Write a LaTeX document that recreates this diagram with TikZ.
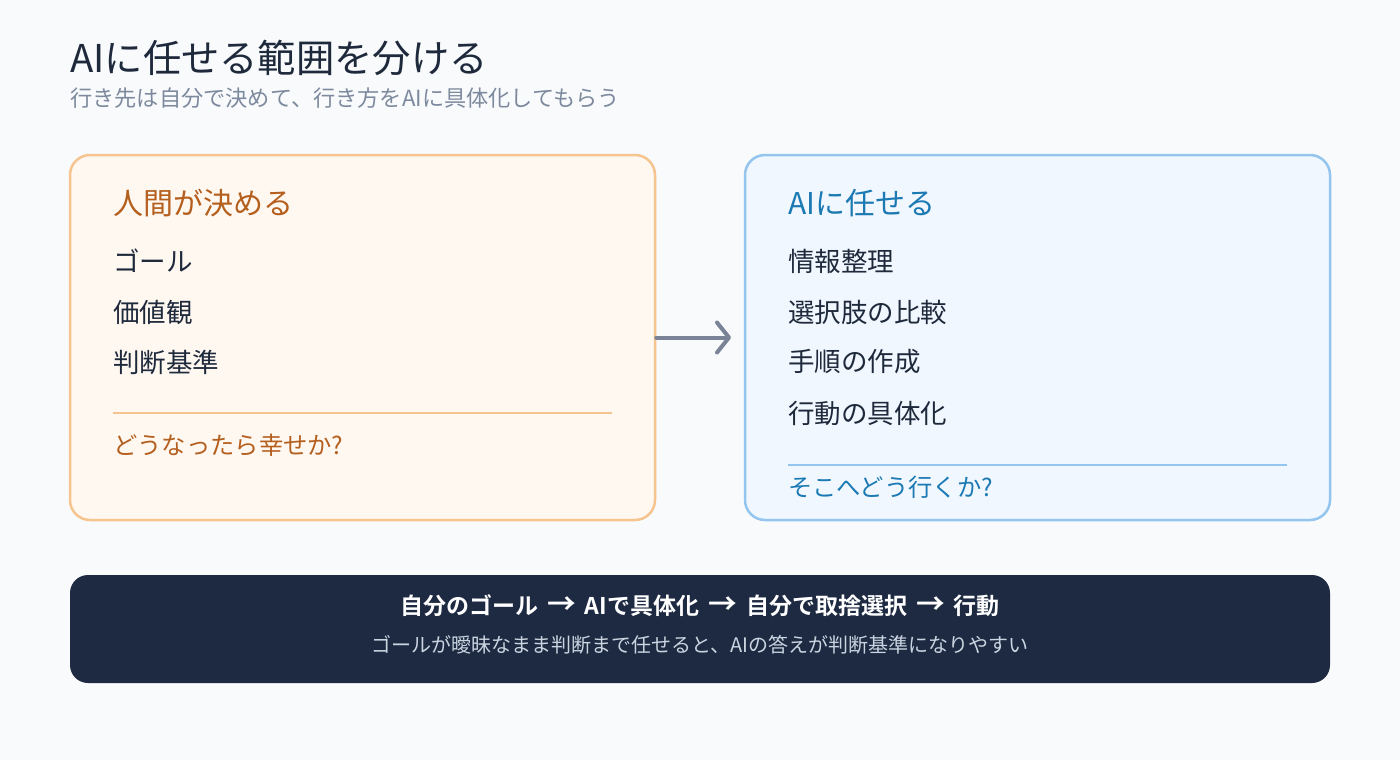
\documentclass[tikz,border=0pt]{standalone}
\usepackage{fontspec}
\setmainfont{Noto Sans CJK JP}[BoldFont={Noto Sans CJK JP Bold}]
\usetikzlibrary{arrows.meta}
\definecolor{bgc}{HTML}{F8FAFC}
\definecolor{ink}{HTML}{1E293B}
\definecolor{subc}{HTML}{7D8A9E}
\definecolor{orb}{HTML}{F6C48E}
\definecolor{orf}{HTML}{FFF8F1}
\definecolor{ort}{HTML}{B45F1E}
\definecolor{blb}{HTML}{93C5EE}
\definecolor{blf}{HTML}{F0F7FE}
\definecolor{blt}{HTML}{1B79B3}
\definecolor{darkc}{HTML}{1E2A42}
\definecolor{lightc}{HTML}{CBD5E1}
\definecolor{arrc}{HTML}{7B8496}
\newcommand{\gap}{\hspace{9pt}}
\newcommand{\rarr}{\gap\scalebox{1.25}{→}\gap}
\tikzset{
  card/.style={rounded corners=20pt, line width=2.5pt, minimum width=585pt, minimum height=365pt, inner sep=0pt},
  txt/.style={anchor=west, inner sep=0pt, text=ink, font=\fontsize{26.5}{32}\selectfont},
  head/.style={anchor=west, inner sep=0pt, font=\fontsize{30}{36}\selectfont},
  foot/.style={anchor=west, inner sep=0pt, font=\fontsize{24.3}{29}\selectfont},
  arr/.style={draw=arrc, line width=4pt, line cap=round, -{Straight Barb[length=12pt,width=30pt,line cap=round,line join=round]}},
}
\begin{document}
\begin{tikzpicture}[x=1pt,y=-1pt]
\fill[bgc] (0,0) rectangle (1400,760);
\useasboundingbox (0,0) rectangle (1400,760);
% title
\node[anchor=west, inner sep=0pt, text=ink, font=\fontsize{38.3}{44}\selectfont] (title) at (70,58) {AIに任せる範囲を分ける};
\node[anchor=west, inner sep=0pt, text=subc, font=\fontsize{22.2}{27}\selectfont] (sub) at (70,98) {行き先は自分で決めて、行き方をAIに具体化してもらう};
% left card
\node[card, draw=orb, fill=orf] (L) at (362.5,337.5) {};
\node[head, text=ort] (lh) at (113,203) {人間が決める};
\node[txt] (l1) at (113,261) {ゴール};
\node[txt] (l2) at (113,312) {価値観};
\node[txt] (l3) at (113,362) {判断基準};
\coordinate (lla) at (113,413);
\coordinate (llb) at (612,413);
\draw[orb, line width=1.5pt] (lla) -- (llb);
\node[foot, text=ort] (lf) at (113,445) {どうなったら幸せか?};
% right card
\node[card, draw=blb, fill=blf] (R) at (1037.5,337.5) {};
\node[head, text=blt] (rh) at (788,203) {AIに任せる};
\node[txt] (r1) at (788,261) {情報整理};
\node[txt] (r2) at (788,312) {選択肢の比較};
\node[txt] (r3) at (788,362) {手順の作成};
\node[txt] (r4) at (788,413) {行動の具体化};
\coordinate (rla) at (788,465);
\coordinate (rlb) at (1287,465);
\draw[blb, line width=1.5pt] (rla) -- (rlb);
\node[foot, text=blt] (rf) at (788,487) {そこへどう行くか?};
% arrow
\coordinate (ae) at (731,337.5);
\draw[arr] (L.east) -- (ae);
% bottom
\node[rounded corners=18pt, fill=darkc, minimum width=1260pt, minimum height=108pt, inner sep=0pt] (B) at (700,629) {};
\node[inner sep=0pt, text=white, font=\bfseries\fontsize{23}{27}\selectfont] (b1) at (700,606) {自分のゴール\rarr AIで具体化\rarr 自分で取捨選択\rarr 行動};
\node[inner sep=0pt, text=lightc, font=\fontsize{20}{24}\selectfont] (b2) at (700,645) {ゴールが曖昧なまま判断まで任せると、AIの答えが判断基準になりやすい};
\end{tikzpicture}
\end{document}
